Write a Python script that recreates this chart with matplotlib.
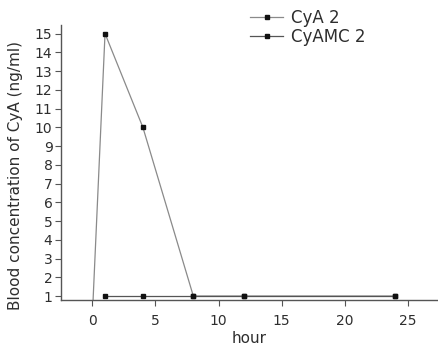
import matplotlib
matplotlib.use("Agg")
import matplotlib.pyplot as plt

plt.rcParams['font.family'] = ['DejaVu Sans']

cya_hours = [0, 1, 4, 8, 12, 24]
cya_conc = [0, 15, 10, 1, 1, 1]
cyamc_hours = [1, 4, 8, 12, 24]
cyamc_conc = [1, 1, 1, 1, 1]
series_labels = ["CyA 2", "CyAMC 2"]
x_ticks = [0, 5, 10, 15, 20, 25]
y_ticks = list(range(1, 16))

text_col = '#2e2e2e'
line_col = '#8a8a8a'

fig = plt.figure(figsize=(4.38, 3.49), dpi=100)
ax = fig.add_axes([0.139, 0.14, 0.861, 0.788])

ax.plot(cya_hours, cya_conc, '-s', color=line_col, lw=0.9,
        markerfacecolor='#111111', markeredgecolor='#111111', markersize=3.5,
        label=series_labels[0])
ax.plot(cyamc_hours, cyamc_conc, '-s', color='#555555', lw=0.9,
        markerfacecolor='#111111', markeredgecolor='#111111', markersize=3.5,
        label=series_labels[1])

ax.set_xlim(-2.5, 27.4)
ax.set_ylim(0.78, 15.45)
ax.set_xticks(x_ticks)
ax.set_yticks(y_ticks)
for s in ['top', 'right']:
    ax.spines[s].set_visible(False)
for s in ['left', 'bottom']:
    ax.spines[s].set_color('#555555')
    ax.spines[s].set_linewidth(1.0)
ax.tick_params(axis='both', colors='#555555', labelcolor=text_col,
               labelsize=10, length=4, width=0.8)
ax.tick_params(axis='y', pad=2)
ax.tick_params(axis='x', pad=6)

ax.set_ylabel("Blood concentration of CyA (ng/ml)", fontsize=11, color=text_col)
ax.yaxis.set_label_coords(-0.10, 0.455)
ax.set_xlabel("hour", fontsize=11, color=text_col)
ax.xaxis.set_label_coords(0.5, -0.113)

leg = ax.legend(loc='upper left', bbox_to_anchor=(250 / 438, 1 - 9 / 349),
                bbox_transform=fig.transFigure, borderaxespad=0, borderpad=0,
                frameon=False, fontsize=12, handlelength=2.0, handletextpad=0.45,
                labelspacing=0.05, labelcolor=text_col)

fig.savefig("out.png", dpi=100)
